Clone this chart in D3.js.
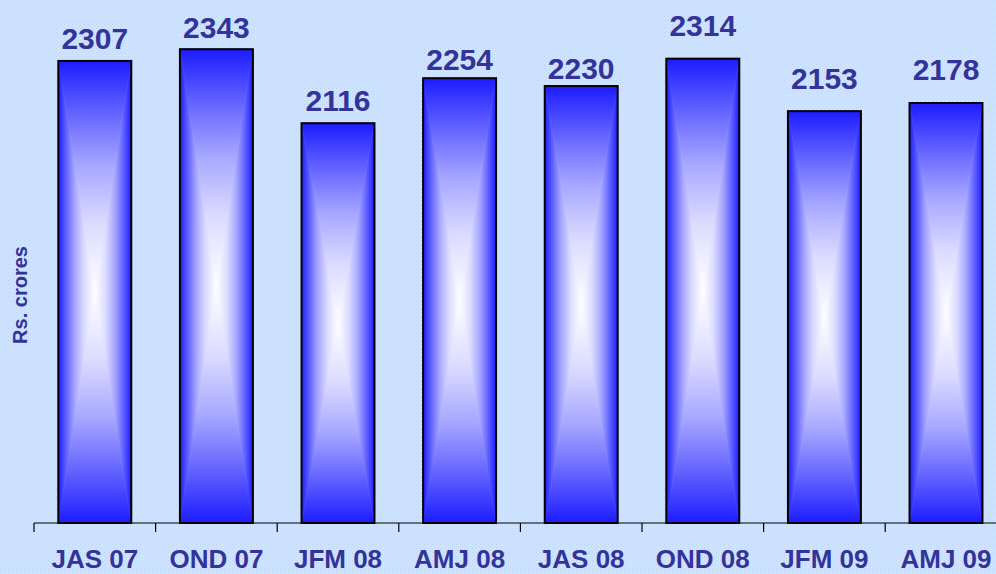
<!DOCTYPE html>
<html>
<head>
<meta charset="utf-8">
<script src="https://cdn.jsdelivr.net/npm/d3@7/dist/d3.min.js"></script>
<style>
  html, body { margin: 0; padding: 0; background: #c6dffc; }
  svg { display: block; }
  text { font-family: "Liberation Sans", Arial, sans-serif; font-weight: bold; fill: #333399; }
</style>
</head>
<body>
<svg width="996" height="574"></svg>
<script>
// quarters and sales (Rs. crores)
var quarters = ["JAS 07", "OND 07", "JFM 08", "AMJ 08", "JAS 08", "OND 08", "JFM 09", "AMJ 09"];
var sales = [2307, 2343, 2116, 2254, 2230, 2314, 2153, 2178];

// the value labels were nudged by hand in the original, lift above bar top (px)
var labelLift = [12, 11, 12.5, 8, 7, 22.5, 22, 23];

var svg = d3.select("svg"),
    W = +svg.attr("width"),
    H = +svg.attr("height"),
    left = 34, base = 523, step = 121.6;

var defs = svg.append("defs");

// fine light blue texture of the slide background
var pat = defs.append("pattern")
    .attr("id", "bg")
    .attr("width", 4).attr("height", 4)
    .attr("patternUnits", "userSpaceOnUse");
pat.append("rect").attr("width", 4).attr("height", 4).attr("fill", "#c8e0fd");
d3.range(16).forEach(function(k) {
  var px = k % 4, py = Math.floor(k / 4);
  var c = null;
  if ((px + py) % 2 === 0) c = "#d5e8ff";
  if ((px === 0 && py === 0) || (px === 2 && py === 2)) c = "#bdd6f8";
  if (c) pat.append("rect").attr("x", px).attr("y", py).attr("width", 1).attr("height", 1).attr("fill", c);
});
svg.append("rect").attr("width", W).attr("height", H).attr("fill", "url(#bg)");

// rectangle "from centre" gradient built from 4 triangles
var stops = [[0, "#1c1cff"], [0.1, "#3c3cff"], [0.25, "#6b6bff"], [0.45, "#a6a6ff"], [0.7, "#dadaff"], [1, "#ffffff"]];
function grad(id, x1, y1, x2, y2) {
  var g = defs.append("linearGradient").attr("id", id)
      .attr("x1", x1).attr("y1", y1).attr("x2", x2).attr("y2", y2);
  stops.forEach(function(s) {
    g.append("stop").attr("offset", s[0]).attr("stop-color", s[1]);
  });
}
grad("gTop", 0, 0, 0, 1);
grad("gBot", 0, 1, 0, 0);
grad("gLeft", 0, 0, 1, 0);
grad("gRight", 1, 0, 0, 0);

var x = d3.scaleBand()
    .domain(quarters)
    .range([left, left + step * quarters.length])
    .paddingInner(0.4)
    .paddingOuter(0.2);

var y = d3.scaleLinear()
    .domain([890, 2500])
    .range([base, -2]);

var bars = svg.selectAll("g.bar")
    .data(quarters.map(function(q, i) { return {q: q, v: sales[i], lift: labelLift[i]}; }))
  .enter().append("g")
    .attr("class", "bar");

bars.each(function(d) {
  var g = d3.select(this),
      x0 = x(d.q), x1 = x0 + x.bandwidth(),
      y0 = y(d.v), y1 = y(890),
      cx = (x0 + x1) / 2, cy = (y0 + y1) / 2;
  var tri = [
    ["gTop",   [[x0, y0], [x1, y0], [cx, cy]]],
    ["gBot",   [[x0, y1], [x1, y1], [cx, cy]]],
    ["gLeft",  [[x0, y0], [x0, y1], [cx, cy]]],
    ["gRight", [[x1, y0], [x1, y1], [cx, cy]]]
  ];
  tri.forEach(function(t) {
    g.append("polygon")
      .attr("points", t[1].map(function(p) { return p.join(","); }).join(" "))
      .attr("fill", "url(#" + t[0] + ")")
      .attr("stroke", "url(#" + t[0] + ")")
      .attr("stroke-width", 0.6);
  });
  g.append("rect")
    .attr("x", x0).attr("y", y0)
    .attr("width", x1 - x0).attr("height", y1 - y0)
    .attr("fill", "none")
    .attr("stroke", "#000")
    .attr("stroke-width", 2);
  g.append("text")
    .attr("x", cx)
    .attr("y", y0 - d.lift)
    .attr("text-anchor", "middle")
    .style("font-size", "30px")
    .text(d.v);
});

// x axis: line with ticks between categories
var axis = svg.append("g").attr("class", "axis");
axis.append("line")
    .attr("x1", left).attr("x2", left + step * quarters.length)
    .attr("y1", base).attr("y2", base)
    .attr("stroke", "#000").attr("stroke-width", 1.2);
d3.range(quarters.length + 1).forEach(function(i) {
  var tx = x(quarters[0]) - x.step() * x.paddingOuter() + i * x.step();
  axis.append("line")
    .attr("x1", tx).attr("x2", tx)
    .attr("y1", base).attr("y2", base + 9)
    .attr("stroke", "#000").attr("stroke-width", 1.2);
});
axis.selectAll("text.cat")
    .data(quarters)
  .enter().append("text")
    .attr("class", "cat")
    .attr("x", function(d) { return x(d) + x.bandwidth() / 2; })
    .attr("y", 568)
    .attr("text-anchor", "middle")
    .style("font-size", "26px")
    .text(function(d) { return d; });

// y axis title
svg.append("text")
    .attr("transform", "translate(27,295) rotate(-90)")
    .attr("text-anchor", "middle")
    .style("font-size", "20px")
    .text("Rs. crores");
</script>
</body>
</html>
